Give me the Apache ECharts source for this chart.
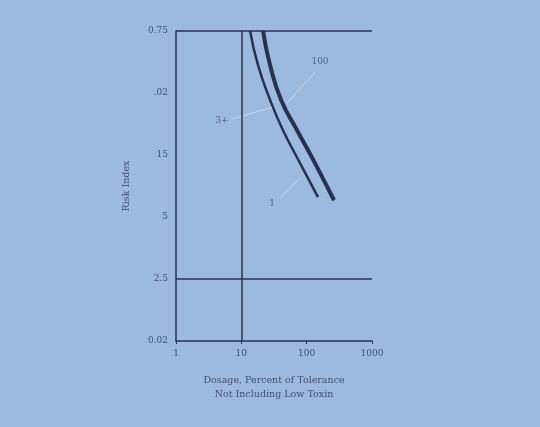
<!DOCTYPE html>
<html>
<head>
<meta charset="utf-8">
<script src="https://cdn.jsdelivr.net/npm/echarts@6/dist/echarts.min.js"></script>
<style>
html,body{margin:0;padding:0;background:#9bbade;}
#c{width:540px;height:427px;}
</style>
</head>
<body>
<div id="c"></div>
<script>
// Tick labels
var xTicks = [1, 10, 100, 1000];
var xTickLabels = ['1', '10', '100', '1000'];
var yTickLabels = ['0.02', '2.5', '5', '15', '.02', '0.75']; // bottom -> top, positions 0..5

// Curves: [dose, index position]
var curveA = [[13.6, 5.0], [18.0, 4.45], [27.5, 3.89], [43.4, 3.40], [79.1, 2.87], [149, 2.32]];
var curveB = [[21.5, 5.0], [27.5, 4.45], [40.5, 3.89], [71.2, 3.40], [134, 2.87], [262, 2.27]];

// Annotation leaders
var leader100 = [[134, 4.34], [50, 3.84]];
var leader3 = [[7.2, 3.58], [29.5, 3.77]];
var leader1 = [[39.1, 2.31], [79.1, 2.63]];
var annoLabels = [
  {text: '100', pos: [160, 4.5]},
  {text: '3+', pos: [5.06, 3.55]},
  {text: '1', pos: [29.5, 2.21]}
];

var dark = '#263250';
var txt = '#44506c';

var chart = echarts.init(document.getElementById('c'));
var series = [
  {type: 'line', data: curveA, showSymbol: false, smooth: true,
   lineStyle: {color: dark, width: 2.5},
   markLine: {silent: true, symbol: 'none', label: {show: false},
     lineStyle: {color: dark, width: 1.5, type: 'solid'},
     data: [{xAxis: 10}, {yAxis: 1}, {yAxis: 5}]}},
  {type: 'line', data: curveB, showSymbol: false, smooth: true,
   lineStyle: {color: dark, width: 4}},
  {type: 'line', data: leader100, showSymbol: false, lineStyle: {color: '#c9d6ec', width: 1}},
  {type: 'line', data: leader3, showSymbol: false, lineStyle: {color: '#c9d6ec', width: 1}},
  {type: 'line', data: leader1, showSymbol: false, lineStyle: {color: '#c9d6ec', width: 1}},
  {type: 'scatter', symbolSize: 0,
   data: annoLabels.map(function(a){ return {value: a.pos, name: a.text}; }),
   label: {show: true, position: 'inside', formatter: '{b}', color: txt, fontSize: 9, fontFamily: 'DejaVu Serif'}}
];

chart.setOption({
  animation: false,
  backgroundColor: '#9bbade',
  grid: {left: 176, right: 168, top: 31, bottom: 86},
  xAxis: {
    type: 'log', min: 1, max: 1000, logBase: 10,
    axisLine: {show: true, lineStyle: {color: dark, width: 1.5}},
    axisTick: {show: true, length: 3, inside: false, lineStyle: {color: dark}},
    splitLine: {show: false},
    axisLabel: {color: txt, fontSize: 9, fontFamily: 'DejaVu Serif', margin: 8,
      formatter: function(v){ var i = xTicks.indexOf(Math.round(v)); return i >= 0 ? xTickLabels[i] : ''; }},
    name: 'Dosage, Percent of Tolerance\nNot Including Low Toxin',
    nameLocation: 'middle', nameGap: 33,
    nameTextStyle: {color: txt, fontSize: 9.5, fontFamily: 'DejaVu Serif', lineHeight: 14}
  },
  yAxis: {
    type: 'value', min: 0, max: 5, interval: 1,
    axisLine: {show: true, lineStyle: {color: dark, width: 1.5}},
    axisTick: {show: false},
    splitLine: {show: false},
    axisLabel: {color: txt, fontSize: 9, fontFamily: 'DejaVu Serif', margin: 8,
      formatter: function(v){ return yTickLabels[Math.round(v)] || ''; }},
    name: 'Risk Index', nameLocation: 'middle', nameGap: 44, nameRotate: 90,
    nameTextStyle: {color: txt, fontSize: 9.5, fontFamily: 'DejaVu Serif'}
  },
  series: series
});
</script>
</body>
</html>
